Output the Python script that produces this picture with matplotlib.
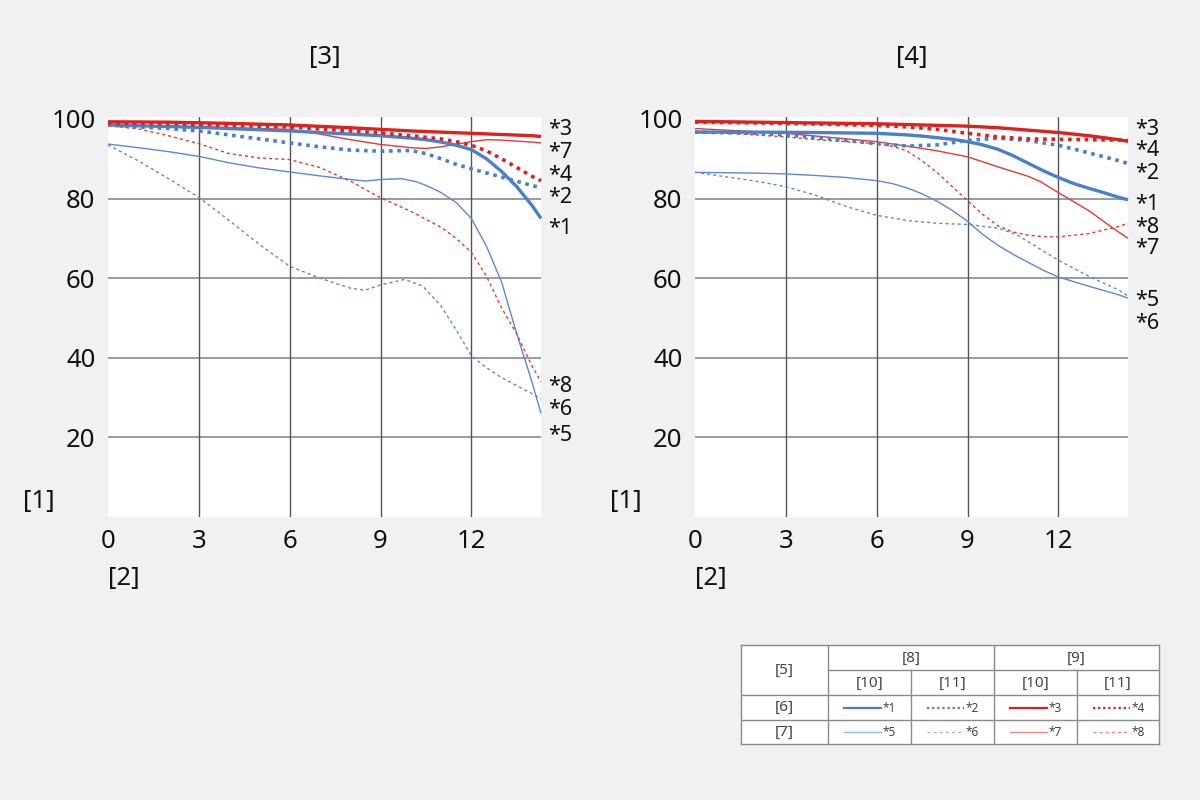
import matplotlib
matplotlib.use("Agg")
import matplotlib.pyplot as plt
import matplotlib.transforms as mtransforms

plt.rcParams['font.family'] = ['Noto Sans', 'DejaVu Sans']

# ---------------- data ----------------
titles = ["[3]", "[4]"]
y_axis_label = "[1]"
x_axis_label = "[2]"
x_ticks = [0, 3, 6, 9, 12]
y_ticks = [20, 40, 60, 80, 100]
series_names = ["*1", "*2", "*3", "*4", "*5", "*6", "*7", "*8"]

# left chart [3]
L1_x = [0, 1, 2, 3, 4, 5, 6, 7, 8, 9, 10, 10.5, 11, 11.5, 12, 12.5, 13, 13.5, 14, 14.3]
L1_y = [98.5, 98.3, 98.1, 97.9, 97.6, 97.3, 97.0, 96.6, 96.2, 95.8, 95.2, 94.8, 94.2, 93.4, 92.3, 90.0, 86.8, 83.0, 78.3, 75.0]
L2_x = [0, 1, 2, 3, 4, 5, 6, 7, 8, 9, 10, 10.5, 11, 11.5, 12, 13, 14, 14.3]
L2_y = [98.5, 98.0, 97.6, 97.0, 96.0, 95.0, 94.0, 93.0, 92.2, 91.9, 92.1, 91.3, 90.0, 88.6, 87.5, 85.4, 83.3, 82.7]
L3_x = [0, 2, 4, 6, 8, 10, 12, 13, 14, 14.3]
L3_y = [99.3, 99.2, 98.9, 98.5, 97.8, 97.0, 96.4, 96.1, 95.8, 95.6]
L4_x = [0, 2, 4, 6, 8, 9, 10, 11, 11.5, 12, 12.5, 13, 13.5, 14, 14.3]
L4_y = [99.0, 98.8, 98.4, 98.0, 97.0, 96.5, 95.8, 95.0, 94.3, 93.4, 92.0, 90.0, 87.8, 85.6, 84.5]
L5_x = [0, 1, 2, 3, 4, 5, 6, 7, 8, 8.5, 9, 9.7, 10.2, 10.6, 11, 11.5, 12, 12.5, 13, 13.5, 14, 14.3]
L5_y = [93.7, 92.8, 91.8, 90.6, 89.0, 87.7, 86.7, 85.7, 84.8, 84.4, 84.8, 85.0, 84.2, 83.0, 81.5, 79.0, 75.0, 68.0, 59.0, 46.0, 34.0, 26.0]
L6_x = [0, 1, 2, 3, 4, 5, 6, 7, 8, 8.5, 9, 9.8, 10.4, 11, 11.5, 12, 12.5, 13, 13.5, 14, 14.3]
L6_y = [93.5, 89.5, 85.0, 80.3, 74.5, 68.5, 63.0, 60.0, 57.5, 57.0, 58.3, 59.7, 58.0, 53.0, 47.0, 40.5, 37.5, 35.0, 33.0, 31.0, 29.7]
L7_x = [0, 2, 4, 6, 7, 8, 9, 10, 10.5, 11, 12, 12.5, 13, 14, 14.3]
L7_y = [98.5, 98.2, 97.8, 97.4, 96.2, 94.8, 93.6, 92.8, 92.6, 93.0, 94.3, 94.8, 94.7, 94.2, 94.0]
L8_x = [0, 1, 2, 3, 4, 5, 6, 7, 8, 9, 10, 11, 11.5, 12, 12.5, 13, 13.5, 14, 14.3]
L8_y = [98.3, 97.5, 95.8, 93.8, 91.3, 90.2, 89.8, 87.8, 84.4, 80.2, 76.8, 72.8, 70.0, 66.5, 60.5, 52.5, 46.0, 38.0, 34.0]

# right chart [4]
R1_x = [0, 2, 4, 6, 7, 7.5, 8, 8.5, 9, 9.5, 10, 10.5, 11, 11.5, 12, 12.5, 13, 13.5, 14, 14.3]
R1_y = [96.7, 96.7, 96.6, 96.4, 96.0, 95.7, 95.3, 94.9, 94.3, 93.5, 92.4, 90.8, 88.9, 87.0, 85.3, 83.8, 82.6, 81.5, 80.3, 79.7]
R2_x = [0, 2, 3, 4, 5, 6, 7, 8, 9, 10, 11, 12, 13, 14, 14.3]
R2_y = [96.7, 96.4, 96.0, 95.3, 94.6, 93.8, 93.2, 93.5, 94.6, 95.2, 94.6, 93.4, 91.5, 89.5, 88.8]
R3_x = [0, 3, 6, 9, 10, 11, 12, 13, 14, 14.3]
R3_y = [99.4, 99.1, 98.8, 98.2, 97.8, 97.2, 96.6, 95.8, 94.8, 94.4]
R4_x = [0, 3, 6, 7, 8, 9, 10, 11, 12, 13, 14, 14.3]
R4_y = [99.2, 98.9, 98.4, 98.0, 97.4, 96.4, 95.5, 95.0, 94.9, 94.8, 94.7, 94.6]
R5_x = [0, 1, 2, 3, 4, 5, 6, 6.5, 7, 7.5, 8, 8.5, 9, 9.5, 10, 10.5, 11, 11.5, 12, 13, 14, 14.3]
R5_y = [86.6, 86.5, 86.4, 86.2, 85.8, 85.3, 84.5, 83.8, 82.7, 81.2, 79.3, 77.0, 74.3, 71.0, 68.3, 66.0, 64.0, 62.0, 60.3, 58.0, 55.8, 55.0]
R6_x = [0, 1, 2, 3, 4, 5, 6, 7, 8, 9, 10, 10.6, 11, 12, 13, 14, 14.3]
R6_y = [86.6, 85.5, 84.4, 83.0, 80.8, 78.0, 75.8, 74.5, 73.8, 73.5, 72.6, 71.0, 69.2, 64.5, 60.5, 57.0, 55.5]
R7_x = [0, 1, 2, 3, 4, 5, 6, 7, 8, 9, 10, 11, 11.4, 12, 13, 13.8, 14.3]
R7_y = [97.6, 97.2, 96.8, 96.4, 95.7, 95.0, 94.3, 93.2, 92.0, 90.5, 88.0, 85.6, 84.3, 81.5, 77.0, 72.6, 70.0]
R8_x = [0, 1, 2, 3, 4, 5, 6, 6.5, 7, 7.5, 8, 8.5, 9, 9.5, 10, 10.5, 11, 11.6, 12, 13, 14, 14.3]
R8_y = [97.0, 96.5, 96.0, 95.5, 94.8, 94.3, 93.8, 93.2, 92.0, 89.5, 86.5, 83.0, 79.5, 76.0, 73.2, 71.6, 70.8, 70.4, 70.4, 71.2, 73.0, 73.8]

left_series = [(L1_x, L1_y), (L2_x, L2_y), (L3_x, L3_y), (L4_x, L4_y),
               (L5_x, L5_y), (L6_x, L6_y), (L7_x, L7_y), (L8_x, L8_y)]
right_series = [(R1_x, R1_y), (R2_x, R2_y), (R3_x, R3_y), (R4_x, R4_y),
                (R5_x, R5_y), (R6_x, R6_y), (R7_x, R7_y), (R8_x, R8_y)]

# end label placement (label order and vertical positions)
left_label_order = ["*3", "*7", "*4", "*2", "*1", "*8", "*6", "*5"]
left_label_y = [97.3, 91.5, 85.8, 80.3, 72.5, 32.8, 27.0, 20.5]
right_label_order = ["*3", "*4", "*2", "*1", "*8", "*7", "*5", "*6"]
right_label_y = [97.3, 92.0, 86.3, 78.5, 72.8, 67.5, 54.3, 48.5]

# table texts
tbl_corner = "[5]"
tbl_groups = ["[8]", "[9]"]
tbl_sub = ["[10]", "[11]", "[10]", "[11]"]
tbl_rows = ["[6]", "[7]"]

# ---------------- styles ----------------
BLUE = "#4a7fcb"
BLUE_T = "#5a8ad0"
RED = "#e0201c"
RED_T = "#e03a36"
styles = {
    "*1": dict(color=BLUE, lw=2.4, ls="-"),
    "*2": dict(color=BLUE, lw=2.6, ls=(0, (1, 1.3))),
    "*3": dict(color=RED, lw=2.4, ls="-"),
    "*4": dict(color=RED, lw=2.6, ls=(0, (1, 1.3))),
    "*5": dict(color=BLUE_T, lw=1.0, ls="-"),
    "*6": dict(color=BLUE_T, lw=1.0, ls=(0, (2.2, 2.2))),
    "*7": dict(color=RED_T, lw=1.0, ls="-"),
    "*8": dict(color=RED_T, lw=1.0, ls=(0, (2.2, 2.2))),
}
draw_order = ["*6", "*5", "*8", "*7", "*2", "*1", "*4", "*3"]

BG = "#f1f1f3"
fig = plt.figure(figsize=(12, 8), dpi=100, facecolor=BG)

W, H = 1200, 800
def axrect(x0, y0, x1, y1):
    return [x0 / W, 1 - y1 / H, (x1 - x0) / W, (y1 - y0) / H]

ax_rects = [axrect(108, 117, 541, 517), axrect(695, 117, 1128, 517)]
series_sets = [left_series, right_series]
label_orders = [left_label_order, right_label_order]
label_ys = [left_label_y, right_label_y]

for k in range(2):
    ax = fig.add_axes(ax_rects[k])
    ax.set_facecolor("white")
    ax.set_xlim(0, 14.3)
    ax.set_ylim(0, 100.5)
    for s in ax.spines.values():
        s.set_visible(False)
    for yv in [20, 40, 60, 80]:
        ax.axhline(yv, color="#8a8a8a", lw=1.2, zorder=1)
    for xv in [3, 6, 9, 12]:
        ax.axvline(xv, color="#555555", lw=1.0, zorder=1)
    ser = dict(zip(series_names, series_sets[k]))
    for nm in draw_order:
        xs, ys = ser[nm]
        ax.plot(xs, ys, zorder=3, clip_on=False, solid_capstyle="butt",
                solid_joinstyle="round", **styles[nm])
    ax.set_xticks(x_ticks)
    ax.set_xticklabels([str(v) for v in x_ticks])
    ax.set_yticks(y_ticks)
    ax.set_yticklabels([str(v) for v in y_ticks])
    ax.tick_params(length=0, labelsize=18.5, colors="#111111", pad=9)
    trans = mtransforms.blended_transform_factory(ax.transAxes, ax.transData)
    for nm, yv in zip(label_orders[k], label_ys[k]):
        ax.text(1.016, yv, nm, transform=trans, fontsize=15.5, ha="left",
                va="center", color="#111111")
    ax.set_title(titles[k], fontsize=18.5, pad=38, color="#111111")
    ax.text(-0.197, 0.038, y_axis_label, transform=ax.transAxes, fontsize=18.5,
            ha="left", va="center", color="#111111")
    ax.text(0.0, -0.153, x_axis_label, transform=ax.transAxes, fontsize=18.5,
            ha="left", va="center", color="#111111")

# ---------------- legend table ----------------
tx0, ty0, tx1, ty1 = 741, 645, 1159, 744
tax = fig.add_axes(axrect(tx0, ty0, tx1, ty1))
tax.set_xlim(tx0, tx1)
tax.set_ylim(ty1, ty0)
tax.set_facecolor("white")
tax.set_xticks([])
tax.set_yticks([])
for s in tax.spines.values():
    s.set_color("#8a8a8a")
    s.set_linewidth(1.0)

cols = [741, 828, 911, 994, 1077, 1159]
gc = "#8a8a8a"
tax.plot([828, 828], [645, 744], color=gc, lw=1)
tax.plot([994, 994], [645, 744], color=gc, lw=1)
tax.plot([911, 911], [670, 744], color=gc, lw=1)
tax.plot([1077, 1077], [670, 744], color=gc, lw=1)
tax.plot([828, 1159], [670, 670], color=gc, lw=1)
tax.plot([741, 1159], [695, 695], color=gc, lw=1)
tax.plot([741, 1159], [720, 720], color=gc, lw=1)

tc = "#444444"
fs_t = 11
tax.text((741 + 828) / 2, (645 + 695) / 2, tbl_corner, ha="center", va="center", fontsize=fs_t, color=tc)
tax.text((828 + 994) / 2, 658, tbl_groups[0], ha="center", va="center", fontsize=fs_t, color=tc)
tax.text((994 + 1159) / 2, 658, tbl_groups[1], ha="center", va="center", fontsize=fs_t, color=tc)
for i, t in enumerate(tbl_sub):
    tax.text((cols[i + 1] + cols[i + 2]) / 2, 683, t, ha="center", va="center", fontsize=fs_t, color=tc)
tax.text((741 + 828) / 2, 707.5, tbl_rows[0], ha="center", va="center", fontsize=fs_t, color=tc)
tax.text((741 + 828) / 2, 732, tbl_rows[1], ha="center", va="center", fontsize=fs_t, color=tc)

legend_cells = [["*1", "*2", "*3", "*4"], ["*5", "*6", "*7", "*8"]]
row_y = [707.5, 732]
for r, names in enumerate(legend_cells):
    for c, nm in enumerate(names):
        x0 = cols[c + 1] + 16
        st = dict(styles[nm])
        st["lw"] = 1.6 if r == 0 else 1.0
        if r == 1:
            st["alpha"] = 0.6
        tax.plot([x0, x0 + 37], [row_y[r], row_y[r]], **st)
        tax.text(x0 + 39, row_y[r] + 1, nm, ha="left", va="center", fontsize=8.5, color=tc)

fig.savefig("out.png", dpi=100, facecolor=BG)
